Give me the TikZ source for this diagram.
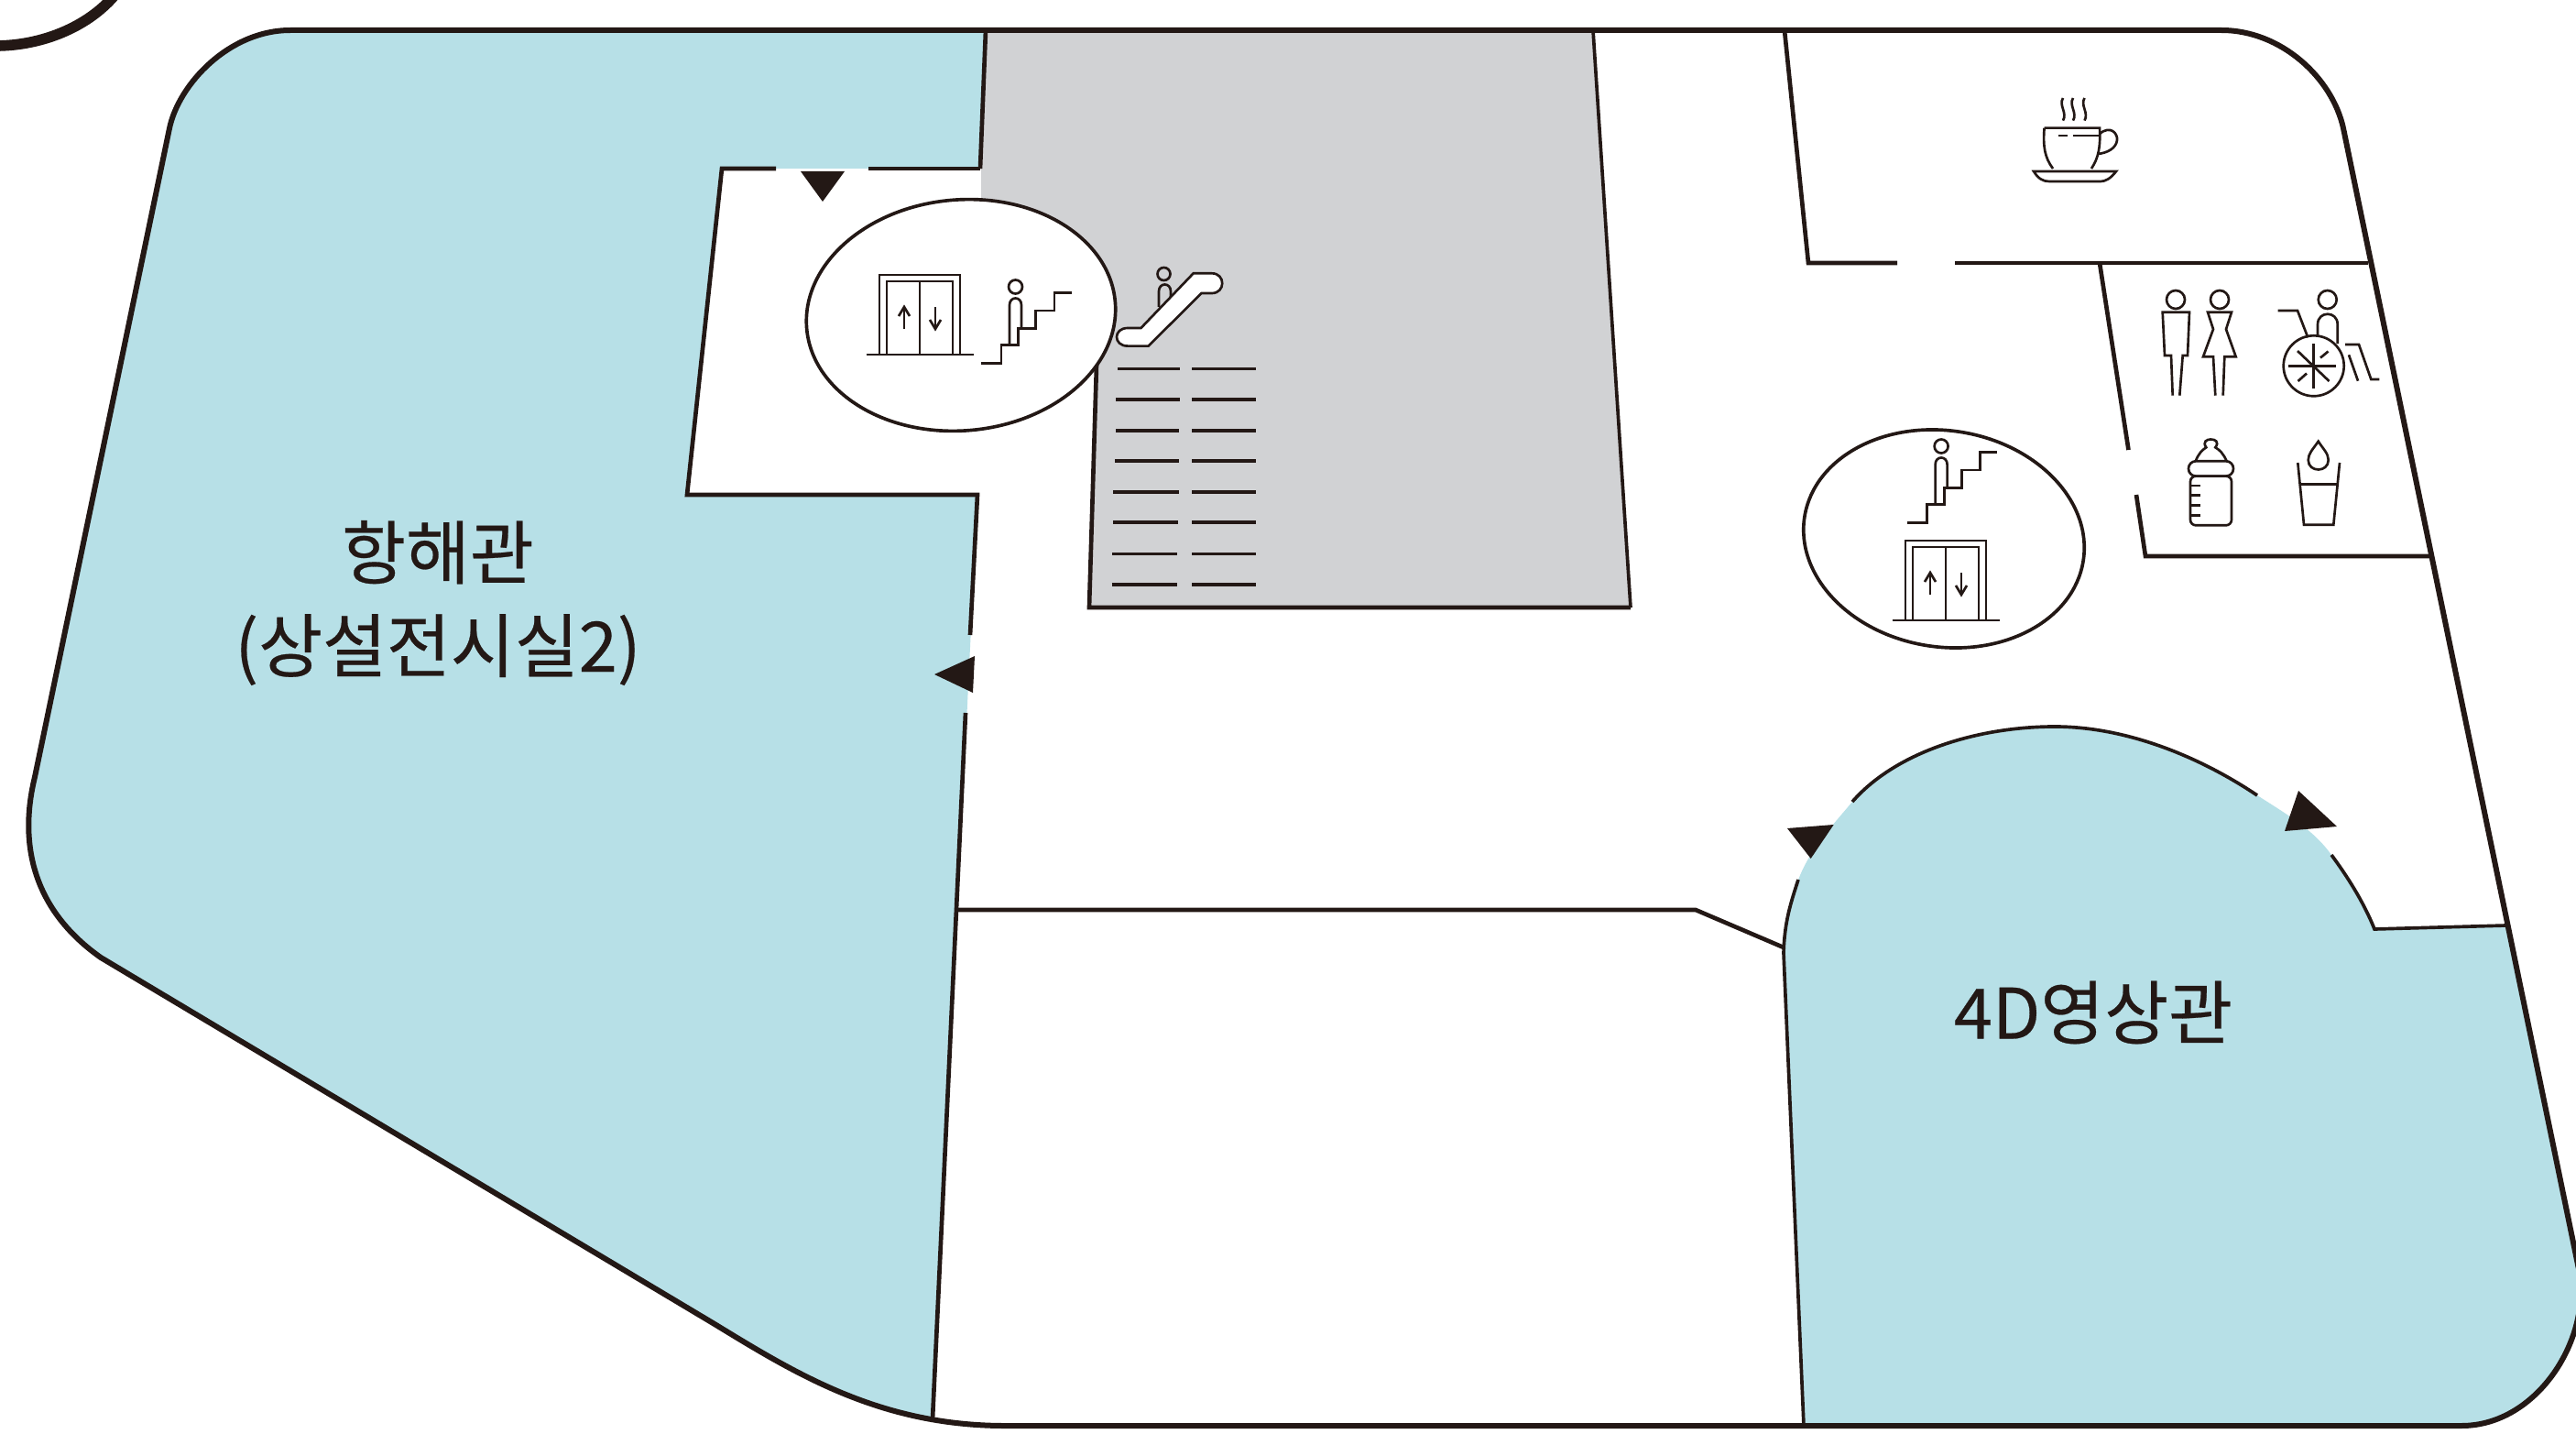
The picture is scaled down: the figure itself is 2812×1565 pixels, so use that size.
\documentclass[tikz,border=0pt]{standalone}
\usepackage{fontspec}
\newfontfamily\krfont[FakeBold=0.35]{Noto Sans CJK KR}
\definecolor{ink}{HTML}{231815}
\definecolor{roomblue}{HTML}{B7E0E7}
\definecolor{voidgray}{HTML}{D1D2D4}
\tikzset{
  outerwall/.style={draw=ink,line width=1.8pt,line join=round},
  wall/.style={draw=ink,line width=1.4pt,line join=miter},
  bubble/.style={draw=ink,line width=1.1pt,fill=white},
  icon/.style={draw=ink,line width=0.8pt,line join=miter,fill=none},
  tread/.style={draw=ink,line width=1.1pt},
  doormark/.style={fill=ink,draw=none},
  roomlabel/.style={text=ink,font=\krfont\fontsize{22.8}{30.5}\selectfont,align=center,inner sep=0pt}
}
\newcommand{\elevicon}[2]{%
  \begin{scope}[shift={(#1,#2)}]
    \draw[icon] (960,387)--(960,300)--(1048,300)--(1048,387);
    \draw[icon] (968,387)--(968,307)--(1040,307)--(1040,387);
    \draw[icon] (1004,307)--(1004,387);
    \draw[icon] (945.5,387)--(1062.5,387);
    \draw[icon] (987,359)--(987,335);
    \draw[icon] (981,345)--(987,335)--(993,345);
    \draw[icon] (1021,335)--(1021,359);
    \draw[icon] (1015,349)--(1021,359)--(1027,349);
  \end{scope}}
\newcommand{\stairicon}[2]{%
  \begin{scope}[shift={(#1,#2)}]
    \draw[icon] (1108.5,313) circle (7.5);
    \draw[icon] (1102,376)--(1102,333) .. controls (1102,323) and (1115,323) .. (1115,333)--(1115,358);
    \draw[icon] (1071.4,396.6)--(1092.9,396.6)--(1092.9,376.6)--(1111.6,376.6)--(1111.6,358.6)--(1130.8,358.6)--(1130.8,339)--(1150.9,339)--(1150.9,319.7)--(1169.6,319.7);
  \end{scope}}
\begin{document}
\begin{tikzpicture}[x=0.3pt,y=-0.3pt]
\useasboundingbox (0,0) rectangle (2812,1565);
\clip (0,0) rectangle (2812,1565);
\fill[white] (0,0) rectangle (2812,1565);

% fills
\fill[voidgray] (1076,33)--(1739,33)--(1780,663)--(1189,663)--(1197,398)--(1071,225)--(1071,184)--cycle;
\fill[roomblue] (1076,33)--(317,33) .. controls (250,33) and (195,92) .. (185,140)--(48,800)--(38,848)
  .. controls (24,905) and (25,985) .. (110,1045)--(780,1445)
  .. controls (852,1489) and (924,1533) .. (1018.4,1549.3)
  --(1067,540)--(750,540)--(788,184)--(1070,184)--cycle;
\fill[roomblue] (1947,1040) .. controls (1948,1005) and (1955,985) .. (1963,960)
  .. controls (1977,925) and (1997,905) .. (2022,875)
  .. controls (2070,820) and (2160,793) .. (2243,793)
  .. controls (2320,793) and (2400,825) .. (2464,868)
  .. controls (2495,888) and (2525,905) .. (2545,933)
  .. controls (2562,956) and (2580,984) .. (2592,1014)
  --(2736,1010)--(2815,1385) .. controls (2830,1460) and (2770,1556) .. (2687,1556)
  --(1969,1556)--cycle;

% corner of the neighbouring mark
\draw[draw=ink,line width=3.5pt] (-5,50) .. controls (45,50) and (95,30) .. (125,-5);

% gray void walls
\draw[wall] (1076,33)--(1070,184);
\draw[draw=ink,line width=1.1pt] (1739,33)--(1780,663);
\draw[wall] (1780,663)--(1189,663)--(1197,398);

% lobby and left room walls
\draw[wall] (1070,184)--(948,184);
\draw[wall] (847,184)--(788,184)--(750,540)--(1067,540)--(1059,693);
\draw[wall] (1054,778)--(1018,1549);
\draw[wall] (1043,993)--(1851,993)--(1947,1034);

% 4D room walls
\draw[draw=ink,line width=1.1pt] (1969,1556)--(1947,1040) .. controls (1948,1005) and (1955,985) .. (1963,960);
\draw[draw=ink,line width=1.1pt] (2022,875) .. controls (2070,820) and (2160,793) .. (2243,793)
  .. controls (2320,793) and (2400,825) .. (2464,868);
\draw[draw=ink,line width=1.1pt] (2545,933) .. controls (2562,956) and (2580,984) .. (2592,1014)--(2736,1010);

% cafe and toilets walls
\draw[wall] (1948,33)--(1974,287)--(2071,287);
\draw[wall] (2134,287)--(2585,287);
\draw[wall] (2292,287)--(2323.5,491);
\draw[wall] (2332,540)--(2342,607)--(2652,607);

% outer wall
\draw[outerwall] (317,33)--(2425,33) .. controls (2490,33) and (2546,85) .. (2558,140)
  --(2815,1385) .. controls (2830,1460) and (2770,1556) .. (2687,1556)
  --(1094,1556) .. controls (960,1555) and (870,1500) .. (780,1445)
  --(110,1045) .. controls (25,985) and (24,905) .. (38,848)
  --(48,800)--(185,140) .. controls (195,92) and (250,33) .. (317,33)--cycle;

% door markers
\fill[doormark] (874,187)--(922,187)--(898,220)--cycle;
\fill[doormark] (1020,736)--(1064,716)--(1062,756)--cycle;
\fill[doormark] (1951,904)--(2001.7,900)--(1976.7,937)--cycle;
\fill[doormark] (2509,863)--(2551,902)--(2494,907)--cycle;

% treads
\foreach \yy/\xa/\xb in {402.4/1220/1288,435.9/1218/1287.5,469.7/1218/1287,503/1217/1287,537.2/1215/1287,570.3/1215/1286,604.5/1214/1285,637.9/1213.5/1285}{
  \draw[tread] (\xa,\yy)--(\xb,\yy);
  \draw[tread] (1301,\yy)--(1371,\yy);
}

% escalator
\draw[icon] (1270.5,299) circle (7);
\draw[icon] (1265,335)--(1265,318) .. controls (1265,308) and (1278,308) .. (1278,318)--(1278,330);
\draw[icon,fill=white] (1302.7,298.3)--(1322.8,298.3) .. controls (1338,298.3) and (1338,320) .. (1322.8,320)--(1311.6,320)--(1253.6,377.6)--(1231,377.6) .. controls (1215,377.6) and (1215,358) .. (1231,358)--(1245.5,358)--cycle;

% bubbles
\draw[bubble] (1049,344) [rotate around={5:(1049,344)}] ellipse [x radius=169,y radius=126];
\draw[bubble] (2122,588) [rotate around={-9:(2122,588)}] ellipse [x radius=154,y radius=118];
\elevicon{0}{0}
\stairicon{0}{0}
\elevicon{1120}{290}
\stairicon{1010.6}{174}

% cup
\draw[icon] (2252,107) .. controls (2247,115) and (2257,123) .. (2252,131.6);
\draw[icon] (2263,107) .. controls (2258,115) and (2268,123) .. (2263,131.6);
\draw[icon] (2275.5,107) .. controls (2270.5,115) and (2280.5,123) .. (2275.5,131.6);
\draw[icon] (2231.6,139.6)--(2292,139.6) .. controls (2293,160) and (2291,172) .. (2283,184);
\draw[icon] (2231.6,139.6) .. controls (2230,160) and (2232,172) .. (2241,184);
\draw[icon] (2247,148)--(2257,148);
\draw[icon] (2263,148)--(2292,148);
\draw[icon] (2292,146) .. controls (2304,136) and (2312,146) .. (2311,153) .. controls (2310,162) and (2300,167) .. (2290,168);
\draw[icon] (2220,187)--(2310,187) .. controls (2304,195) and (2298,198) .. (2293,198)--(2237,198) .. controls (2230,198) and (2225,195) .. (2220,187)--cycle;

% man
\draw[icon] (2375,327) circle (10);
\draw[icon] (2371.7,431.7)--(2370,388)--(2363,388)--(2360.7,340.7)--(2390,340.7)--(2388,388)--(2382.7,388)--(2379.3,431.7);
% woman
\draw[icon] (2423,327) circle (10);
\draw[icon] (2418.3,431.7)--(2416,389.3)--(2405,389.3)--(2416,359.3)--(2410,340.7)--(2436,340.7)--(2430,359.3)--(2440.7,389.3)--(2428.3,389.3)--(2426.7,431.7);

% wheelchair
\draw[icon] (2540.7,327) circle (10);
\draw[icon] (2530,367)--(2530,354) .. controls (2530,339) and (2551.7,339) .. (2551.7,354)--(2551.7,375);
\draw[icon] (2525.7,399.3) circle (33);
\draw[icon] (2525.7,375)--(2525.7,423.5);
\draw[icon] (2498,399.3)--(2550,399.3);
\draw[icon] (2508,383)--(2542.5,416);
\draw[icon] (2541.5,383.5)--(2533,390.5);
\draw[icon] (2508.5,416)--(2518,407.5);
\draw[icon] (2486.7,339)--(2508,339)--(2519.3,368.3);
\draw[icon] (2560,376)--(2575,376)--(2588.3,414)--(2597.3,414);
\draw[icon] (2564,387.3)--(2574,415.7);

% bottle
\draw[icon] (2396.7,503.3) .. controls (2400,495) and (2404,491) .. (2408.3,488.3) .. controls (2404,482) and (2409,479.5) .. (2413.3,479.5) .. controls (2418,479.5) and (2423,482) .. (2418.3,488.3) .. controls (2423,491) and (2427,495) .. (2430.7,503.3);
\draw[icon,rounded corners=2.4pt] (2389,503.3) rectangle (2438,519.6);
\draw[icon,rounded corners=1.8pt] (2391,519.6) rectangle (2436,573.3);
\foreach \yy in {530,540.7,551.7,562.7}{\draw[icon] (2391,\yy)--(2401.7,\yy);}

% water glass
\draw[icon] (2530.7,481.7) .. controls (2525,490) and (2519.7,495) .. (2519.7,502) .. controls (2519.7,516) and (2541.7,516) .. (2541.7,502) .. controls (2541.7,495) and (2536,490) .. (2530.7,481.7)--cycle;
\draw[icon] (2508.3,505)--(2515,572.7)--(2547.3,572.7)--(2554,505);
\draw[icon] (2510.7,528.3)--(2551.7,528.3);

% labels
\node[roomlabel] (navhall) at (478,658) {항해관\\(상설전시실2)};
\node[roomlabel] (fourd) at (2285,1105) {4D영상관};
\end{tikzpicture}
\end{document}
